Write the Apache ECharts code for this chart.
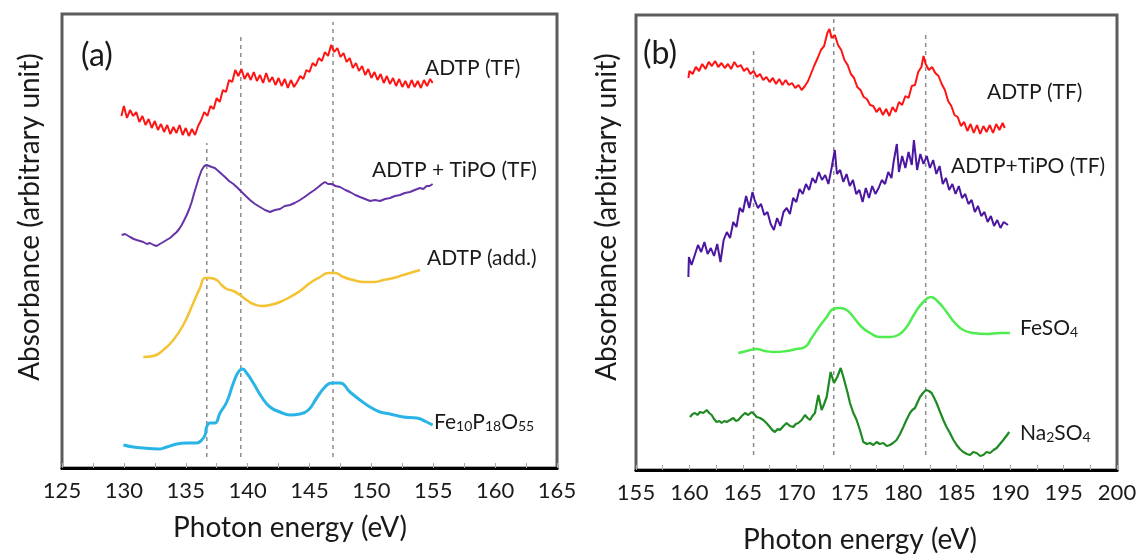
<!DOCTYPE html>
<html>
<head>
<meta charset="utf-8">
<script src="https://cdn.jsdelivr.net/npm/echarts@6/dist/echarts.min.js"></script>
<style>
  html, body { margin: 0; padding: 0; background: #fff; }
  #main { width: 1148px; height: 558px; }
</style>
</head>
<body>
<div id="main"></div>
<script>
// photon energy (eV), absorbance in arbitrary units (curves are offset for display)
const redA = [[129.8,352],[130.0,362],[130.25,350],[130.5,358],[130.75,352],[131.0,356],[131.25,346],[131.5,352],[131.75,343],[132.0,349],[132.25,340],[132.5,347],[132.75,338],[133.0,344],[133.25,336],[133.5,343],[133.75,334],[134.0,341],[134.25,335],[134.5,343],[134.75,333],[135.0,340],[135.25,332],[135.5,339],[135.75,333],[136.0,342],[136.25,348],[136.5,356],[136.75,352],[137.0,362],[137.25,359],[137.5,370],[137.75,366],[138.0,378],[138.25,376],[138.5,388],[138.75,386],[139.0,398],[139.25,392],[139.5,399],[139.75,389],[140.0,395],[140.25,388],[140.5,396],[140.75,387],[141.0,393],[141.25,385],[141.5,395],[141.75,386],[142.0,391],[142.25,383],[142.5,390],[142.75,382],[143.0,389],[143.25,380],[143.5,388],[143.75,381],[144.0,386],[144.25,392],[144.5,389],[144.75,398],[145.0,396],[145.25,405],[145.5,402],[145.75,410],[146.0,407],[146.25,416],[146.5,412],[146.75,423],[147.0,416],[147.25,420],[147.5,411],[147.75,415],[148.0,406],[148.25,410],[148.5,400],[148.75,405],[149.0,397],[149.25,402],[149.5,393],[149.75,399],[150.0,390],[150.25,396],[150.5,388],[150.75,394],[151.0,385],[151.25,392],[151.5,384],[151.75,390],[152.0,382],[152.25,389],[152.5,381],[152.75,387],[153.0,380],[153.25,388],[153.5,381],[153.75,387],[154.0,380],[154.25,388],[154.5,382],[154.75,389],[154.95,385]];

const purpleA = [[129.82,233],[130.1,234],[130.5,231],[130.8,229],[131.03,228],[131.3,227],[131.57,226],[131.85,224],[132.11,225],[132.4,223],[132.65,222],[132.9,224],[133.19,226],[133.45,228],[133.73,230],[134.0,233],[134.27,236],[134.47,239],[134.67,243],[134.88,248],[135.08,253],[135.28,259],[135.48,266],[135.68,275],[135.88,283],[136.08,291],[136.29,298],[136.5,302],[136.69,303],[136.9,302],[137.1,301],[137.35,300],[137.63,297],[137.9,294],[138.17,291],[138.5,287],[138.85,284],[139.2,280],[139.52,276],[139.85,272],[140.19,268],[140.6,264],[141.0,261],[141.4,258],[141.81,256],[142.2,258],[142.62,259],[143.0,262],[143.43,263],[143.8,265],[144.23,268],[144.6,271],[145.04,275],[145.4,278],[145.71,281],[146.0,284],[146.25,286],[146.5,284],[146.79,284],[147.1,282],[147.47,281],[147.9,278],[148.27,276],[148.7,273],[149.08,271],[149.5,269],[149.89,267],[150.3,268],[150.7,267],[151.1,269],[151.51,270],[151.9,272],[152.31,273],[152.7,275],[153.12,276],[153.5,278],[153.93,280],[154.2,279],[154.47,282],[154.7,282],[154.95,284]];

const yellowA = [[131.57,111],[132.38,112],[133.19,118],[134.0,128],[134.8,143],[135.61,165],[136.15,180],[136.56,190],[136.96,190],[137.5,188],[137.9,183],[138.31,179],[138.85,177],[139.38,173],[139.92,168],[140.46,164],[141.13,162],[141.81,163],[142.62,166],[143.43,171],[144.23,177],[145.04,185],[145.85,191],[146.52,195],[147.06,195],[147.73,191],[148.54,188],[149.35,186],[150.16,186],[150.97,188],[151.78,190],[152.58,193],[153.39,196],[153.93,198]];

const blueA = [[129.96,23],[130.76,21],[131.57,20],[132.79,19],[133.46,21],[134.27,24],[135.08,25],[135.88,25],[136.29,28],[136.56,33],[136.69,41],[136.96,45],[137.36,45],[137.77,55],[138.31,66],[138.85,85],[139.25,96],[139.6,99],[139.92,95],[140.46,85],[141.13,71],[141.81,61],[142.62,56],[143.43,53],[144.23,54],[144.91,58],[145.58,70],[146.25,81],[146.79,85],[147.47,85],[148.27,76],[149.08,68],[149.89,61],[150.7,56],[151.51,54],[152.58,51],[153.66,50],[154.47,46],[154.95,43]];

const redB = [[159.9,392],[160.0,399],[160.3,396],[160.6,403],[160.9,399],[161.2,406],[161.5,401],[161.8,408],[162.1,404],[162.4,409],[162.7,403],[163.0,407],[163.3,402],[163.6,406],[163.9,401],[164.2,408],[164.5,403],[164.8,405],[165.1,399],[165.4,402],[165.7,396],[166.0,399],[166.3,393],[166.6,396],[166.9,390],[167.2,393],[167.5,388],[167.8,392],[168.1,386],[168.4,391],[168.7,385],[169.0,390],[169.3,385],[169.6,387],[169.9,382],[170.2,385],[170.5,380],[170.8,384],[171.1,389],[171.4,397],[171.7,405],[172.0,412],[172.3,420],[172.6,424],[172.9,437],[173.1,441],[173.3,432],[173.6,435],[173.9,425],[174.2,420],[174.5,410],[174.8,405],[175.1,396],[175.4,392],[175.7,383],[176.0,380],[176.3,373],[176.6,371],[176.9,365],[177.2,364],[177.5,358],[177.8,362],[178.1,355],[178.4,361],[178.7,354],[179.0,363],[179.3,358],[179.6,368],[179.9,365],[180.2,374],[180.5,372],[180.8,384],[181.1,385],[181.4,398],[181.7,403],[181.9,414],[182.1,406],[182.4,400],[182.7,403],[183.0,397],[183.3,394],[183.6,386],[183.9,380],[184.2,369],[184.5,364],[184.8,355],[185.1,353],[185.4,344],[185.7,348],[186.0,339],[186.3,346],[186.6,337],[186.9,345],[187.2,336],[187.5,344],[187.8,338],[188.1,345],[188.4,337],[188.7,346],[189.0,340],[189.3,347],[189.5,342]];

const purpleB = [[159.9,193],[159.95,213],[160.2,205],[160.5,215],[160.8,225],[161.1,218],[161.4,228],[161.7,216],[162.0,222],[162.3,214],[162.6,226],[162.9,208],[163.2,230],[163.5,238],[163.8,232],[164.1,248],[164.4,243],[164.7,262],[165.0,258],[165.3,274],[165.6,262],[165.9,278],[166.1,270],[166.4,262],[166.7,266],[167.0,255],[167.3,258],[167.6,246],[167.9,240],[168.2,252],[168.5,244],[168.8,258],[169.1,262],[169.4,256],[169.7,272],[170.0,268],[170.3,281],[170.6,276],[170.9,286],[171.2,280],[171.5,292],[171.8,287],[172.1,298],[172.4,290],[172.7,295],[173.0,286],[173.3,302],[173.6,320],[173.8,296],[174.1,300],[174.4,288],[174.7,296],[175.0,284],[175.3,290],[175.6,276],[175.9,280],[176.2,268],[176.5,282],[176.8,272],[177.1,284],[177.4,276],[177.7,282],[178.0,290],[178.3,286],[178.6,298],[178.9,292],[179.1,308],[179.4,326],[179.6,298],[179.9,314],[180.2,302],[180.5,318],[180.8,305],[181.0,330],[181.3,300],[181.6,316],[181.9,306],[182.2,314],[182.5,302],[182.8,310],[183.1,296],[183.4,304],[183.7,286],[184.0,292],[184.3,280],[184.6,286],[184.9,276],[185.2,284],[185.5,272],[185.8,276],[186.1,266],[186.4,270],[186.7,258],[187.0,264],[187.3,254],[187.6,258],[187.9,248],[188.2,254],[188.5,244],[188.8,250],[189.1,242],[189.4,248],[189.8,245]];

const feso4 = [[164.57,117],[165.35,119],[166.29,121],[167.07,119],[168.0,118],[169.09,119],[170.03,121],[170.81,123],[171.43,132],[172.06,142],[172.84,153],[173.46,161],[174.08,162],[174.71,160],[175.33,153],[176.11,143],[176.89,137],[177.82,133],[178.76,133],[179.54,135],[180.32,143],[181.1,157],[181.88,168],[182.57,173],[183.28,168],[184.06,158],[184.84,147],[185.62,140],[186.55,137],[187.8,136],[189.05,137],[189.98,137]];

const na2so4 = [[160.05,53],[160.3,56],[160.52,57],[160.75,55],[160.99,58],[161.3,57],[161.61,60],[161.85,57],[162.08,55],[162.3,51],[162.55,48],[162.8,49],[163.01,47],[163.25,49],[163.48,48],[163.8,50],[164.11,52],[164.35,49],[164.57,50],[164.9,54],[165.2,57],[165.5,55],[165.82,58],[166.05,56],[166.29,53],[166.6,52],[166.91,50],[167.2,47],[167.53,43],[167.75,40],[168.0,38],[168.25,41],[168.47,40],[168.8,44],[169.09,47],[169.4,44],[169.72,43],[169.95,46],[170.19,47],[170.5,50],[170.81,55],[171.05,52],[171.28,50],[171.5,54],[171.74,57],[172.06,75],[172.37,60],[172.6,66],[172.84,73],[173.21,98],[173.52,87],[173.83,93],[174.15,102],[174.35,95],[174.55,87],[174.8,77],[175.02,67],[175.3,58],[175.64,50],[175.95,40],[176.27,28],[176.6,26],[176.89,27],[177.2,25],[177.51,28],[177.8,26],[178.14,27],[178.45,24],[178.76,25],[179.05,27],[179.38,30],[179.7,36],[180.01,43],[180.3,50],[180.63,57],[180.85,60],[181.1,62],[181.35,68],[181.57,73],[181.85,77],[182.13,80],[182.4,79],[182.66,77],[182.9,72],[183.12,67],[183.45,58],[183.75,50],[184.05,43],[184.37,37],[184.7,30],[185.0,25],[185.3,21],[185.62,18],[185.95,16],[186.25,15],[186.55,18],[186.87,17],[187.2,14],[187.49,15],[187.8,18],[188.12,17],[188.45,20],[188.74,22],[189.05,26],[189.36,30],[189.65,34],[189.92,38]];

// dashed guide lines: energy positions and the height where each one starts
const dashA = [136.7, 139.45, 146.9];
const dashATop = [325, 431, 446];
const dashB = [166.0, 173.5, 182.1];
const dashBTop = [423, 452, 435];

const chart = echarts.init(document.getElementById('main'));
const FONT = 'Lato, "Open Sans", sans-serif';
const INK = '#1a1a1a';

function curve(idx, data, color, width, smooth) {
  return {
    type: 'line', xAxisIndex: idx, yAxisIndex: idx, data: data,
    showSymbol: false, smooth: smooth, silent: true,
    lineStyle: { color: color, width: width }
  };
}
function guide(idx, x, top, bottom) {
  return {
    type: 'line', xAxisIndex: idx, yAxisIndex: idx,
    data: [[x, bottom], [x, top]], showSymbol: false, silent: true, z: 1,
    lineStyle: { color: '#8c8c8c', width: 1.5, type: [4, 4] }
  };
}

const xAxisBase = {
  type: 'value', interval: 5,
  axisLine: { show: true, lineStyle: { color: '#000', width: 3 } },
  axisTick: { show: true, inside: true, length: 5, lineStyle: { color: '#aaa', width: 1 } },
  minorTick: { show: true, splitNumber: 2, length: 5, lineStyle: { color: '#aaa', width: 1 } },
  splitLine: { show: false },
  axisLabel: { fontSize: 22, color: INK, fontFamily: FONT, margin: 12 }
};

const series = [
  curve(0, redA, '#ff1414', 2, false),
  curve(0, purpleA, '#6634a8', 2, false),
  curve(0, yellowA, '#f4c232', 2.5, true),
  curve(0, blueA, '#2ab4e6', 3, true),
  curve(1, redB, '#ff1414', 2, false),
  curve(1, purpleB, '#4b16a0', 2, false),
  curve(1, feso4, '#4eec4e', 2.5, true),
  curve(1, na2so4, '#1f8a22', 2.2, false)
];
dashA.forEach((x, i) => series.push(guide(0, x, dashATop[i], 11)));
dashB.forEach((x, i) => series.push(guide(1, x, dashBTop[i], 15)));

function label(x, y, text, size, align, rotation) {
  return {
    type: 'text', x: x, y: y, rotation: rotation || 0, silent: true,
    style: { text: text, font: size + 'px ' + FONT, fill: INK,
      textAlign: align || 'left', textVerticalAlign: 'middle' }
  };
}
function subLabel(x, y, text) {
  return {
    type: 'text', x: x, y: y, silent: true,
    style: {
      text: text, fill: INK, textVerticalAlign: 'middle',
      rich: {
        n: { fontSize: 21, fontFamily: FONT, color: INK, lineHeight: 26, verticalAlign: 'bottom' },
        s: { fontSize: 14, fontFamily: FONT, color: INK, lineHeight: 2, verticalAlign: 'bottom' }
      }
    }
  };
}

chart.setOption({
  animation: false,
  grid: [
    { left: 62, top: 14, width: 495, height: 454, show: true, borderColor: '#5c5c5c', borderWidth: 3 },
    { left: 636, top: 15, width: 481, height: 455, show: true, borderColor: '#5c5c5c', borderWidth: 3 }
  ],
  xAxis: [
    Object.assign({ gridIndex: 0, min: 125, max: 165 }, xAxisBase),
    Object.assign({ gridIndex: 1, min: 155, max: 200 }, xAxisBase)
  ],
  yAxis: [
    { gridIndex: 0, type: 'value', min: 0, max: 454, show: false },
    { gridIndex: 1, type: 'value', min: 0, max: 455, show: false }
  ],
  series: series,
  graphic: [
    label(81, 56, '(a)', 32),
    label(425, 68, 'ADTP (TF)', 21),
    label(372, 170, 'ADTP + TiPO (TF)', 21),
    label(427, 258, 'ADTP (add.)', 21),
    subLabel(434, 420, '{n|Fe}{s|10}{n|P}{s|18}{n|O}{s|55}'),
    label(643, 54, '(b)', 32),
    label(987, 92, 'ADTP (TF)', 21),
    label(951, 166, 'ADTP+TiPO (TF)', 21),
    subLabel(1020, 326, '{n|FeSO}{s|4}'),
    subLabel(1020, 431, '{n|Na}{s|2}{n|SO}{s|4}'),
    label(290, 528, 'Photon energy (eV)', 28, 'center'),
    label(860, 540, 'Photon energy (eV)', 28, 'center'),
    label(30, 217, 'Absorbance (arbitrary unit)', 28, 'center', Math.PI / 2),
    label(607, 217, 'Absorbance (arbitrary unit)', 28, 'center', Math.PI / 2)
  ]
});
</script>
</body>
</html>
